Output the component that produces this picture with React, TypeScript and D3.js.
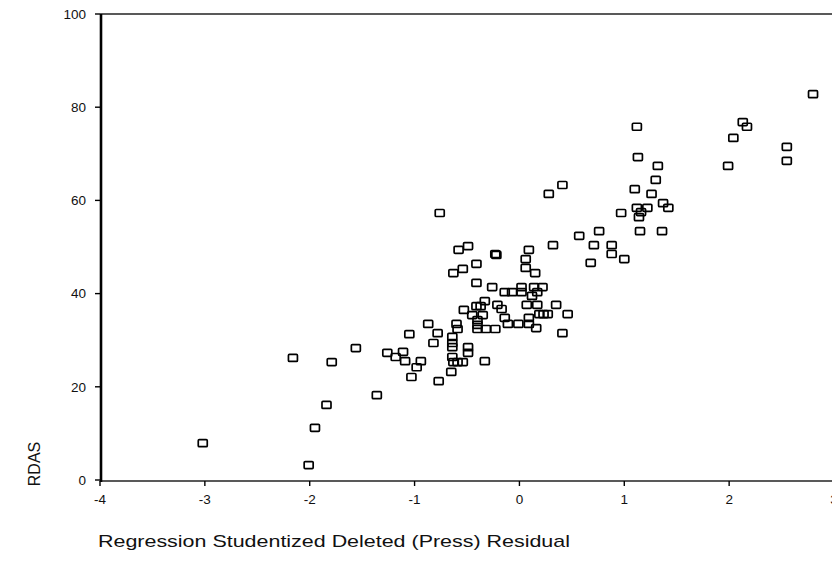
import React from 'react';
import * as d3 from 'd3';

// residual (x) / RDAS (y) pairs
const residuals = [
  -3.02, -2.16, -2.01, -1.95, -1.84, -1.79, -1.56, -1.36, -1.26, -1.18,
  -1.11, -1.09, -1.05, -1.03, -0.98, -0.94, -0.77, -0.87, -0.78, -0.82,
  -0.64, -0.60, -0.59, -0.64, -0.64, -0.64, -0.63, -0.59, -0.54, -0.49,
  -0.49, -0.33, -0.65, -0.76, -0.58, -0.49, -0.63, -0.54, -0.41, -0.23,
  -0.41, -0.26, -0.33, -0.53, -0.41, -0.37, -0.45, -0.35, -0.40, -0.40,
  -0.40, -0.32, -0.23, -0.21, -0.17, -0.14, -0.07, 0.02, 0.02, 0.14,
  0.22, 0.17, 0.12, -0.14, -0.11, -0.01, 0.09, 0.09, 0.16, 0.07,
  0.17, 0.35, 0.19, 0.23, 0.27, 0.46, 0.41, -0.22, 0.09, 0.06,
  0.06, 0.15, 0.28, 0.41, 0.32, 0.57, 0.76, 0.71, 0.68, 0.88,
  0.88, 1.00, 1.12, 1.13, 1.32, 1.30, 1.10, 1.26, 1.37, 1.42,
  1.12, 1.22, 1.16, 0.97, 1.14, 1.15, 1.36, 2.13, 2.17, 2.04,
  1.99, 2.55, 2.55, 2.80,
];

const rdas = [
  7.9, 26.2, 3.2, 11.2, 16.1, 25.3, 28.3, 18.2, 27.3, 26.4,
  27.5, 25.5, 31.3, 22.1, 24.2, 25.5, 21.2, 33.5, 31.5, 29.4,
  30.7, 33.5, 32.4, 29.4, 28.5, 26.4, 25.3, 25.3, 25.3, 28.5,
  27.3, 25.5, 23.2, 57.3, 49.4, 50.2, 44.4, 45.3, 46.4, 48.5,
  42.3, 41.4, 38.4, 36.5, 37.3, 37.3, 35.4, 35.4, 34.3, 33.3,
  32.4, 32.4, 32.4, 37.6, 36.7, 40.3, 40.3, 41.4, 40.3, 41.4,
  41.4, 40.3, 39.5, 34.8, 33.5, 33.5, 33.5, 34.8, 32.6, 37.6,
  37.6, 37.6, 35.6, 35.6, 35.6, 35.6, 31.5, 48.3, 49.4, 47.4,
  45.5, 44.4, 61.4, 63.3, 50.4, 52.4, 53.4, 50.4, 46.6, 50.4,
  48.5, 47.4, 75.8, 69.3, 67.4, 64.4, 62.4, 61.4, 59.4, 58.4,
  58.4, 58.4, 57.5, 57.3, 56.4, 53.4, 53.4, 76.8, 75.8, 73.4,
  67.4, 71.5, 68.5, 82.8,
];

const xTicks = [-4, -3, -2, -1, 0, 1, 2, 3];
const yTicks = [0, 20, 40, 60, 80, 100];

const W = 832;
const H = 567;
const font = 'Arial, "Liberation Sans", sans-serif';

export default function App() {
  const x = d3.scaleLinear().domain([-4, 3]).range([100, 834]);
  const y = d3.scaleLinear().domain([0, 100]).range([480, 14]);
  const points = residuals.map((r, i) => ({ r, v: rdas[i] }));

  return (
    <svg
      width={W}
      height={H}
      style={{ position: 'absolute', left: 0, top: 0, background: '#fff' }}
    >
      {/* frame */}
      <line x1={100} x2={W} y1={y(100)} y2={y(100)} stroke="#222" strokeWidth={1.4} />
      <line x1={100} x2={W} y1={y(0) + 1} y2={y(0) + 1} stroke="#222" strokeWidth={1.6} />
      <line x1={101} x2={101} y1={y(100)} y2={y(0) + 2} stroke="#000" strokeWidth={2.6} />

      {/* y axis */}
      {yTicks.map(t => (
        <g key={'y' + t}>
          <line x1={95} x2={100} y1={y(t)} y2={y(t)} stroke="#000" strokeWidth={1.4} />
          <text
            x={86}
            y={y(t)}
            dy="0.35em"
            textAnchor="end"
            fontFamily={font}
            fontSize={13.5}
            fill="#111"
          >
            {t}
          </text>
        </g>
      ))}

      {/* x axis */}
      {xTicks.map(t => (
        <g key={'x' + t}>
          <line x1={x(t)} x2={x(t)} y1={y(0) + 1} y2={y(0) + 6} stroke="#000" strokeWidth={1.4} />
          <text
            x={x(t)}
            y={y(0) + 24}
            textAnchor="middle"
            fontFamily={font}
            fontSize={13.5}
            fill="#111"
          >
            {t}
          </text>
        </g>
      ))}

      {/* points */}
      {points.map((d, i) => (
        <rect
          key={i}
          x={x(d.r) - 4.5}
          y={y(d.v) - 3.5}
          width={9}
          height={7}
          rx={1}
          fill="#fff"
          fillOpacity={0}
          stroke="#000"
          strokeWidth={1.7}
        />
      ))}

      {/* axis titles */}
      <text
        transform={`translate(40, ${464}) rotate(-90)`}
        textAnchor="middle"
        fontFamily={font}
        fontSize={16}
        fill="#111"
      >
        RDAS
      </text>
      <text
        x={98}
        y={547}
        fontFamily={font}
        fontSize={17}
        fill="#111"
        textLength={472}
        lengthAdjust="spacingAndGlyphs"
      >
        Regression Studentized Deleted (Press) Residual
      </text>
    </svg>
  );
}
